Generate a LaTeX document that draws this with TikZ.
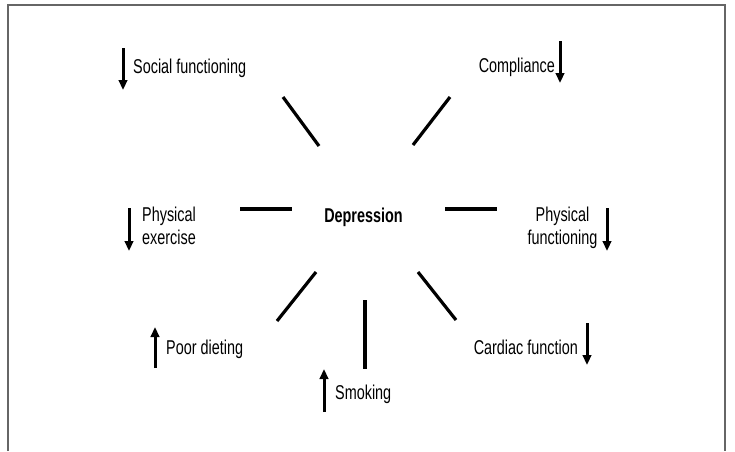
\documentclass[tikz,border=0pt]{standalone}
\usepackage{fontspec}
\setmainfont[FakeStretch=0.72]{Liberation Sans}
\usetikzlibrary{arrows.meta}
\begin{document}
\begin{tikzpicture}[x=1pt,y=-1pt,
  lbl/.style={inner sep=0pt, font=\fontsize{20}{22.5}\selectfont},
  spoke/.style={line width=3.2pt},
  trend/.style={line width=3pt, -{Triangle[length=10pt,width=8.5pt]}},
  frame/.style={draw=black!60, line width=1.5pt}]
\useasboundingbox (0,0) rectangle (735,451);
% open frame
\draw[frame] (8,451) -- (8,5) -- (725,5) -- (725,451);

% centre
\node[lbl, font=\fontsize{20}{22.5}\selectfont\bfseries, anchor=base] (dep) at (363.5,222) {Depression};

% labels (multi-line nodes are anchored on their last line)
\node[lbl, anchor=base west] (soc) at (133,73) {Social functioning};
\node[lbl, anchor=base east] (comp) at (555,72) {Compliance};
\node[lbl, anchor=base west, align=left] (pex) at (142,244) {Physical\\exercise};
\node[lbl, anchor=base, align=center] (pfun) at (562.5,244) {Physical\\functioning};
\node[lbl, anchor=base west] (diet) at (166,354) {Poor dieting};
\node[lbl, anchor=base west] (smok) at (335,399) {Smoking};
\node[lbl, anchor=base east] (card) at (578,354) {Cardiac function};

% spokes round the centre
\coordinate (s1a) at (283,97);  \coordinate (s1b) at (319,146);
\coordinate (s2a) at (450,97);  \coordinate (s2b) at (413,145);
\coordinate (s3a) at (240,209); \coordinate (s3b) at (292,209);
\coordinate (s4a) at (445,209); \coordinate (s4b) at (497,209);
\coordinate (s5a) at (316,272); \coordinate (s5b) at (277,321);
\coordinate (s6a) at (418,272); \coordinate (s6b) at (456,320);
\coordinate (s7a) at (365,300); \coordinate (s7b) at (365,369);
\foreach \i in {1,...,7} \draw[spoke] (s\i a) -- (s\i b);

% trend arrows
\coordinate (a1a) at (123,48);  \coordinate (a1b) at (123,90);
\coordinate (a2a) at (560,41);  \coordinate (a2b) at (560,83);
\coordinate (a3a) at (129,208); \coordinate (a3b) at (129,251);
\coordinate (a4a) at (607,208); \coordinate (a4b) at (607,251);
\coordinate (a5a) at (155,368); \coordinate (a5b) at (155,327);
\coordinate (a6a) at (324,412); \coordinate (a6b) at (324,369);
\coordinate (a7a) at (587,323); \coordinate (a7b) at (587,365);
\foreach \i in {1,...,7} \draw[trend] (a\i a) -- (a\i b);
\end{tikzpicture}
\end{document}
